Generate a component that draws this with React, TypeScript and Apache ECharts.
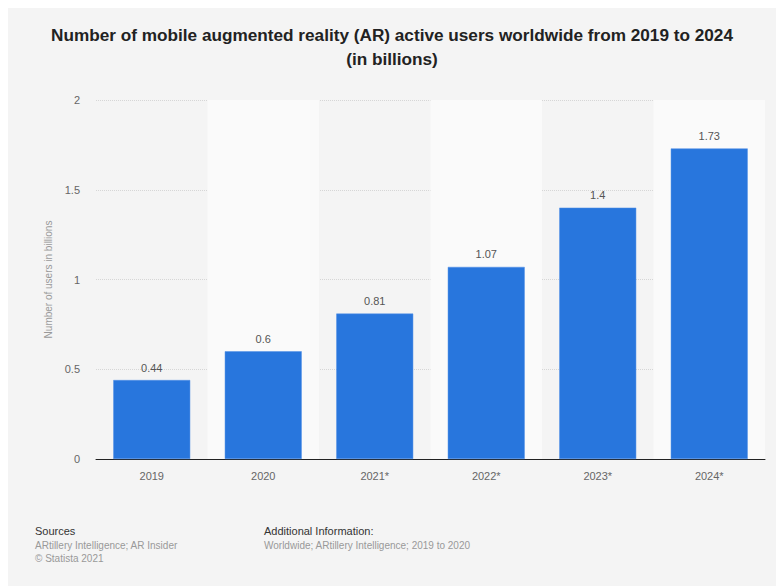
import React, { useEffect, useRef } from "react";
import * as echarts from "echarts";

const categories = ["2019", "2020", "2021*", "2022*", "2023*", "2024*"];
const users = [0.44, 0.6, 0.81, 1.07, 1.4, 1.73];
const yTicks = { min: 0, max: 2, interval: 0.5 };
const titleLines = [
  "Number of mobile augmented reality (AR) active users worldwide from 2019 to 2024",
  "(in billions)",
];
const yAxisName = "Number of users in billions";
const sourcesLines = ["ARtillery Intelligence; AR Insider", "© Statista 2021"];
const additionalLines = ["Worldwide; ARtillery Intelligence; 2019 to 2020"];

const FONT = "'Liberation Sans', Arial, Helvetica, sans-serif";

export default function App() {
  const ref = useRef<HTMLDivElement>(null);
  useEffect(() => {
    if (!ref.current) return;
    const chart = echarts.init(ref.current, undefined, { renderer: "svg" });
    chart.setOption({
      animation: false,
      backgroundColor: "#f4f4f4",
      textStyle: { fontFamily: FONT },
      grid: { left: 88, right: 19, top: 92, bottom: 127, containLabel: false },
      xAxis: {
        type: "category",
        data: categories,
        axisLine: { show: true, lineStyle: { color: "#222", width: 1 } },
        axisTick: { show: false },
        axisLabel: { color: "#666", fontSize: 11, margin: 11, fontFamily: FONT },
        splitArea: { show: true, areaStyle: { color: ["rgba(0,0,0,0)", "#fafafa"] } },
      },
      yAxis: {
        type: "value",
        min: yTicks.min,
        max: yTicks.max,
        interval: yTicks.interval,
        name: yAxisName,
        nameLocation: "middle",
        nameGap: 40,
        nameTextStyle: { color: "#999", fontSize: 10, fontFamily: FONT },
        axisLine: { show: false },
        axisTick: { show: false },
        axisLabel: { color: "#666", fontSize: 11, margin: 16, fontFamily: FONT },
        splitLine: { show: true, lineStyle: { color: "#d6d6d6", type: "dotted", width: 1 } },
      },
      series: [
        {
          type: "bar",
          data: users,
          barWidth: "69%",
          itemStyle: { color: "#2876dd", borderColor: "#4f8fe6", borderWidth: 0.5 },
          label: {
            show: true,
            position: "top",
            distance: 7,
            color: "#555",
            fontSize: 11,
            fontFamily: FONT,
          },
        },
      ],
      graphic: [
        {
          type: "text",
          x: 384,
          y: 27,
          style: {
            text: titleLines[0],
            fill: "#222",
            fontSize: 17.2,
            fontWeight: "bold",
            fontFamily: FONT,
            align: "center",
            verticalAlign: "middle",
          },
        },
        {
          type: "text",
          x: 384,
          y: 51,
          style: {
            text: titleLines[1],
            fill: "#222",
            fontSize: 17.2,
            fontWeight: "bold",
            fontFamily: FONT,
            align: "center",
            verticalAlign: "middle",
          },
        },
        {
          type: "text",
          left: 27,
          top: 517,
          style: { text: "Sources", fill: "#333", fontSize: 11, fontFamily: FONT },
        },
        {
          type: "text",
          left: 27,
          top: 531,
          style: {
            text: sourcesLines.join("\n"),
            fill: "#999",
            fontSize: 10,
            lineHeight: 13,
            fontFamily: FONT,
          },
        },
        {
          type: "text",
          left: 256,
          top: 517,
          style: { text: "Additional Information:", fill: "#333", fontSize: 11, fontFamily: FONT },
        },
        {
          type: "text",
          left: 256,
          top: 531,
          style: {
            text: additionalLines.join("\n"),
            fill: "#999",
            fontSize: 10,
            lineHeight: 13,
            fontFamily: FONT,
          },
        },
      ],
    });
    return () => chart.dispose();
  }, []);
  return <div ref={ref} style={{ width: 776, height: 578 }} />;
}
